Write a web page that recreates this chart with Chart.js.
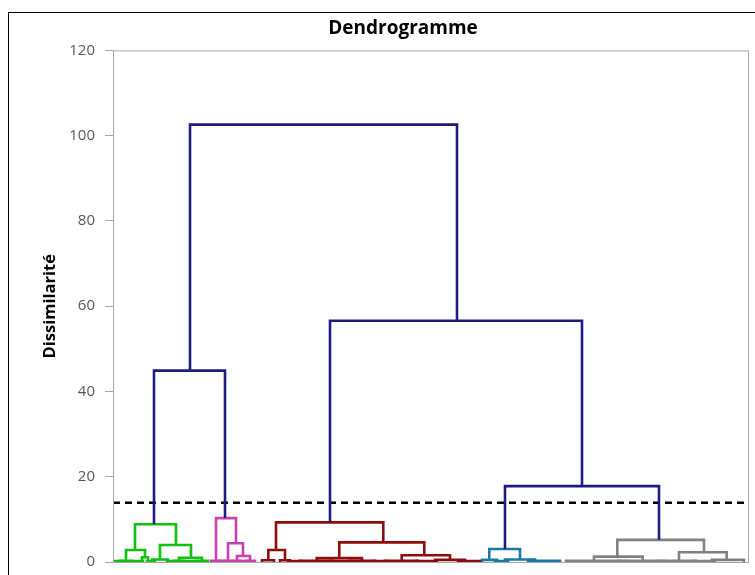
<!DOCTYPE html>
<html>
<head>
<meta charset="utf-8">
<script src="https://cdn.jsdelivr.net/npm/chart.js@4"></script>
<style>
  html, body { margin: 0; padding: 0; background: #fff; overflow: hidden; }
  #cadre { position: absolute; left: 8px; top: 12px; width: 900px; height: 700px; border: 1.5px solid #000; }
  #zone { position: absolute; left: 0; top: 0; width: 806px; height: 575px; }
</style>
</head>
<body>
<div id="cadre"></div>
<div id="zone"><canvas id="dendro"></canvas></div>
<script>
// chaque lien du dendrogramme : position gauche / droite (observations), hauteur, bas des deux jambes
const lienGauche  = [77, 41, 217, 392,
  22, 13, 7, 29, 47, 39, 66, 61, 83, 2, 20, 34, 54, 70,
  103, 98, 115, 111, 124, 120, 133, 106, 127,
  163, 155.3, 149, 167, 226.3, 203.7, 187, 237, 288.7, 272, 322, 345, 175, 218, 260, 303,
  376.3, 369, 392, 415, 382,
  504.3, 481, 453, 512, 566, 549, 599, 505, 545, 580];
const lienDroite  = [344, 112, 469, 546,
  63, 32, 19, 35, 78, 55, 89, 71, 95, 12, 30, 42, 64, 84,
  123, 108, 130, 119, 137, 128, 142, 114, 135,
  270.3, 172, 161, 177, 311.3, 249, 220, 262, 337, 305, 352, 367, 189, 239, 274, 324,
  407, 384, 422, 447, 395,
  591, 529.7, 509, 547, 613.7, 583, 631, 515, 552, 602];
const lienHauteur = [102.6, 44.9, 56.6, 17.8,
  8.85, 2.8, 0.3, 1.1, 4.0, 0.6, 1.0, 0.3, 0.3, 0.25, 0.25, 0.25, 0.25, 0.25,
  10.3, 0.3, 4.4, 0.3, 1.4, 0.3, 0.3, 0.25, 0.25,
  9.3, 2.8, 0.4, 0.4, 4.6, 0.9, 0.3, 0.3, 1.6, 0.3, 0.5, 0.2, 0.25, 0.25, 0.25, 0.25,
  3.05, 0.5, 0.6, 0.3, 0.25,
  5.2, 1.25, 0.3, 0.3, 2.3, 0.3, 0.5, 0.25, 0.25, 0.25];
const basGauche   = [44.9, 8.85, 9.3, 3.05,
  2.8, 0.3, 0, 0, 0.6, 0, 0.3, 0, 0, 0, 0, 0, 0, 0,
  0.3, 0, 0.3, 0, 0.3, 0, 0, 0, 0,
  2.8, 0.4, 0, 0, 0.9, 0.3, 0, 0, 0.3, 0, 0, 0, 0, 0, 0, 0,
  0.5, 0, 0, 0, 0,
  1.25, 0.3, 0, 0, 0.3, 0, 0, 0, 0, 0];
const basDroite   = [56.6, 10.3, 17.8, 5.2,
  4.0, 1.1, 0, 0, 1.0, 0, 0.3, 0, 0, 0, 0, 0, 0, 0,
  4.4, 0, 1.4, 0, 0.3, 0, 0, 0, 0,
  4.6, 0.4, 0, 0, 1.6, 0.3, 0, 0, 0.5, 0, 0, 0, 0, 0, 0, 0,
  0.6, 0, 0, 0, 0,
  2.3, 0.3, 0, 0, 0.5, 0, 0, 0, 0, 0];
const lienClasse  = ["n", "n", "n", "n",
  "g", "g", "g", "g", "g", "g", "g", "g", "g", "g", "g", "g", "g", "g",
  "p", "p", "p", "p", "p", "p", "p", "p", "p",
  "r", "r", "r", "r", "r", "r", "r", "r", "r", "r", "r", "r", "r", "r", "r", "r",
  "t", "t", "t", "t", "t",
  "y", "y", "y", "y", "y", "y", "y", "y", "y", "y"];
const troncature = 13.9;
const nbObservations = 635;

const couleurs = { n: "#1c1c82", g: "#10c010", p: "#cc3fae", r: "#8e0c0c", t: "#1c78a4", y: "#808080" };

const datasets = lienGauche.map((g, i) => ({
  data: [
    { x: g, y: basGauche[i] },
    { x: g, y: lienHauteur[i] },
    { x: lienDroite[i], y: lienHauteur[i] },
    { x: lienDroite[i], y: basDroite[i] }
  ],
  borderColor: couleurs[lienClasse[i]],
  borderWidth: 2.6,
  pointRadius: 0,
  showLine: true,
  fill: false,
  tension: 0
}));
datasets.push({
  data: [{ x: 0, y: troncature }, { x: nbObservations, y: troncature }],
  borderColor: "#000",
  borderWidth: 2.5,
  borderDash: [7, 5],
  pointRadius: 0,
  showLine: true
});

// cadre gris autour de la zone de tracé
const cadrePlot = {
  id: "cadrePlot",
  afterDraw(chart) {
    const { ctx, chartArea: a } = chart;
    ctx.save();
    ctx.strokeStyle = "#a6a6a6";
    ctx.lineWidth = 1;
    ctx.strokeRect(a.left + 0.5, a.top + 0.5, a.right - a.left, a.bottom - a.top);
    ctx.restore();
  }
};

new Chart(document.getElementById("dendro"), {
  type: "scatter",
  data: { datasets: datasets },
  plugins: [cadrePlot],
  options: {
    responsive: true,
    maintainAspectRatio: false,
    animation: false,
    layout: { padding: { left: 0, top: 0, right: 0, bottom: 13 } },
    plugins: {
      legend: { display: false },
      tooltip: { enabled: false },
      title: {
        display: true,
        text: "Dendrogramme",
        color: "#000",
        font: { family: "Open Sans", size: 19, weight: "bold" },
        padding: { top: 17, bottom: 10.6 }
      }
    },
    scales: {
      x: {
        type: "linear",
        min: 0,
        max: nbObservations,
        ticks: { display: false },
        grid: { display: false },
        border: { display: false },
        afterFit: (s) => { s.height = 0; }
      },
      y: {
        min: 0,
        max: 120,
        ticks: { stepSize: 20, color: "#595959", padding: 10, font: { family: "Open Sans", size: 15 } },
        grid: { drawOnChartArea: false, color: "#a6a6a6", tickLength: 8 },
        border: { color: "#a6a6a6" },
        title: {
          display: true,
          text: "Dissimilarité",
          color: "#000",
          font: { family: "Open Sans", size: 16.5, weight: "bold" },
          padding: { top: 40, bottom: 0 }
        },
        afterFit: (s) => { s.width = 113; s.paddingTop = 0; s.paddingBottom = 0; }
      },
      droite: {
        position: "right",
        display: true,
        ticks: { display: false },
        grid: { display: false },
        border: { display: false },
        afterFit: (s) => { s.width = 58; s.paddingTop = 0; s.paddingBottom = 0; }
      }
    }
  }
});
</script>
</body>
</html>
